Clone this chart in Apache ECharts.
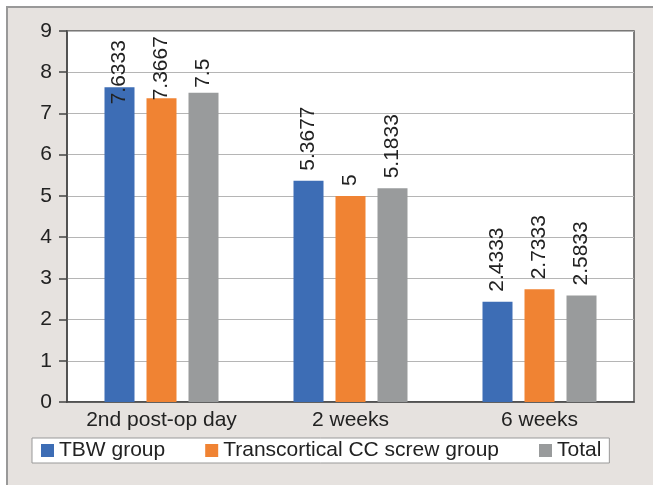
<!DOCTYPE html>
<html>
<head>
<meta charset="utf-8">
<script src="https://cdn.jsdelivr.net/npm/echarts@6/dist/echarts.min.js"></script>
<style>
html, body { margin: 0; padding: 0; background: #fff; }
#chart { width: 653px; height: 485px; }
</style>
</head>
<body>
<div id="chart"></div>
<script>
const categories = ['2nd post-op day', '2 weeks', '6 weeks'];
const tbwGroup = [7.6333, 5.3677, 2.4333];
const screwGroup = [7.3667, 5, 2.7333];
const total = [7.5, 5.1833, 2.5833];
const seriesNames = ['TBW group', 'Transcortical CC screw group', 'Total'];
const yTicks = [0, 1, 2, 3, 4, 5, 6, 7, 8, 9];

const colors = ['#3d6db5', '#f08333', '#999b9c'];
const font = 'Liberation Sans, Arial, sans-serif';

// first group labels are pushed down in the original to stay inside the plot
const firstShift = [-17, -2, 5];

function makeSeries(name, values, idx) {
	return {
		name: name,
		type: 'bar',
		barWidth: 30,
		barGap: '40%',
		itemStyle: { color: colors[idx] },
		data: values.map(function (v, i) {
			if (i === 0) {
				return { value: v, label: { distance: firstShift[idx] } };
			}
			return v;
		}),
		label: {
			show: true,
			position: 'top',
			rotate: 90,
			align: 'left',
			verticalAlign: 'middle',
			distance: 10,
			color: '#222',
			fontSize: 21,
			fontFamily: font
		}
	};
}

let mychart = echarts.init(document.getElementById('chart'));
let option = {
	backgroundColor: '#fff',
	animation: false,
	graphic: [{
		type: 'rect',
		shape: { x: 7, y: 7, width: 660, height: 500 },
		style: { fill: '#e6e2df', stroke: '#999', lineWidth: 2 },
		silent: true,
		z: -10
	}],
	grid: {
		left: 67, top: 31, right: 19, bottom: 83,
		show: true,
		backgroundColor: '#fff',
		borderColor: '#555',
		borderWidth: 1.5
	},
	legend: {
		left: 32,
		top: 438,
		data: seriesNames,
		icon: 'rect',
		itemWidth: 13,
		itemHeight: 13,
		itemGap: 40,
		padding: [2, 8, 2, 9],
		backgroundColor: '#fff',
		borderColor: '#999',
		borderWidth: 1,
		borderRadius: 0,
		textStyle: { fontSize: 21, color: '#222', fontFamily: font }
	},
	xAxis: {
		type: 'category',
		data: categories,
		axisLine: { lineStyle: { color: '#444', width: 1.5 } },
		axisTick: { show: false },
		axisLabel: { interval: 0, fontSize: 21, color: '#222', fontFamily: font, margin: 8 }
	},
	yAxis: {
		type: 'value',
		min: yTicks[0],
		max: yTicks[yTicks.length - 1],
		interval: 1,
		axisLine: { show: true, lineStyle: { color: '#444', width: 1.5 } },
		axisTick: { show: true, length: 8, lineStyle: { color: '#444', width: 1.5 } },
		axisLabel: { fontSize: 21, color: '#222', fontFamily: font, margin: 15 },
		splitLine: { lineStyle: { color: '#b5b5b5', width: 1.2 } }
	},
	series: [
		makeSeries(seriesNames[0], tbwGroup, 0),
		makeSeries(seriesNames[1], screwGroup, 1),
		makeSeries(seriesNames[2], total, 2)
	]
};
mychart.setOption(option);
</script>
</body>
</html>
